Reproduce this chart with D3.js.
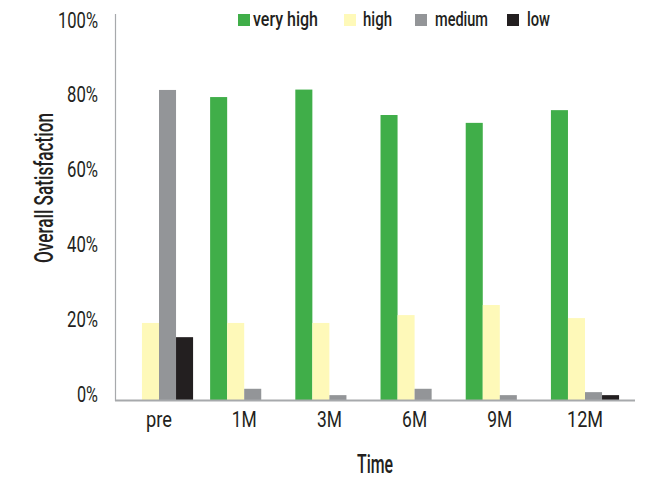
<!DOCTYPE html>
<html>
<head>
<meta charset="utf-8">
<script src="https://cdn.jsdelivr.net/npm/d3@7"></script>
<style>
  html, body { margin: 0; padding: 0; background: #fff; }
  svg { display: block; }
  text { font-family: Roboto, "DejaVu Sans Condensed", sans-serif; fill: #231f20; }
</style>
</head>
<body>
<svg id="chart" width="647" height="479"></svg>
<script>
const categories = ["pre", "1M", "3M", "6M", "9M", "12M"];
const seriesNames = ["very high", "high", "medium", "low"];
const veryHigh = [0, 0.81, 0.83, 0.762, 0.741, 0.775];
const high     = [0.206, 0.206, 0.206, 0.227, 0.254, 0.219];
const medium   = [0.829, 0.03, 0.013, 0.03, 0.013, 0.021];
const low      = [0.168, 0, 0, 0, 0, 0.013];
const yTicks = [0, 0.2, 0.4, 0.6, 0.8, 1.0];
const colors = ["#40ae49", "#fef9b9", "#939598", "#231f20"];

const seriesValues = [veryHigh, high, medium, low];
const svg = d3.select("#chart");

const x0 = d3.scaleBand().domain(categories).range([116.4, 627.6]).padding(0);
const bw = x0.bandwidth();
const x1 = d3.scaleBand().domain(seriesNames).range([bw * 0.1, bw * 0.9]).padding(0);
const y = d3.scaleLinear().domain([0, 1]).range([400, 26]);

const condense = (sel, widthOf) => sel.each(function () {
  const t = d3.select(this);
  t.attr("textLength", widthOf(t.text())).attr("lengthAdjust", "spacingAndGlyphs");
});

// bars
const groups = svg.append("g").selectAll("g")
  .data(categories).join("g")
  .attr("transform", d => `translate(${x0(d)},0)`);

groups.selectAll("rect")
  .data((c, i) => seriesNames.map((s, k) => ({ s, k, v: seriesValues[k][i] })).filter(d => d.v > 0))
  .join("rect")
  .attr("x", d => x1(d.s))
  .attr("width", x1.bandwidth())
  .attr("y", d => y(d.v))
  .attr("height", d => y(0) - y(d.v) + 1)
  .attr("fill", d => colors[d.k]);

// axes lines
svg.append("line").attr("x1", 115.5).attr("x2", 115.5).attr("y1", 14).attr("y2", 401)
  .attr("stroke", "#a7a9ac").attr("stroke-width", 1.2);
svg.append("line").attr("x1", 115).attr("x2", 635).attr("y1", 400.5).attr("y2", 400.5)
  .attr("stroke", "#a7a9ac").attr("stroke-width", 2);

// y tick labels
const yAxis = d3.axisLeft(y).tickValues(yTicks).tickFormat(d3.format(".0%")).tickSize(0).tickPadding(0);
const gy = svg.append("g").attr("transform", "translate(98,-6)").call(yAxis);
gy.select(".domain").remove();
gy.attr("font-family", null).attr("font-size", null);
gy.selectAll("text").attr("font-size", 22).attr("font-weight", 400).attr("fill", "#231f20");
condense(gy.selectAll("text"), s => s.length === 4 ? 40 : s.length === 3 ? 31 : 21);

// x tick labels
const xAxis = d3.axisBottom(x0).tickSize(0).tickPadding(0);
const gx = svg.append("g").attr("transform", "translate(0,411)").call(xAxis);
gx.select(".domain").remove();
gx.attr("font-family", null).attr("font-size", null);
gx.selectAll("text").attr("font-size", 22).attr("font-weight", 400).attr("fill", "#231f20")
  .attr("dy", "0.71em");
condense(gx.selectAll("text"), s => s === "pre" ? 26 : s.length === 3 ? 36 : 25);

// axis titles
svg.append("text").attr("x", 375).attr("y", 473).attr("text-anchor", "middle")
  .attr("font-size", 26).attr("font-weight", 500).text("Time")
  .attr("textLength", 36).attr("lengthAdjust", "spacingAndGlyphs");
svg.append("text").attr("transform", "translate(53,188) rotate(-90)").attr("text-anchor", "middle")
  .attr("font-size", 26).attr("font-weight", 500).text("Overall Satisfaction")
  .attr("textLength", 150).attr("lengthAdjust", "spacingAndGlyphs");

// legend
const legendX = [238, 344, 415, 507];
const legendTextX = [253, 363, 435, 527];
const legendW = [65, 29, 53, 23];
const lg = svg.append("g").selectAll("g").data(seriesNames).join("g");
lg.append("rect").attr("x", (d, i) => legendX[i]).attr("y", 14)
  .attr("width", 12).attr("height", 12).attr("fill", (d, i) => colors[i]);
lg.append("text").attr("x", (d, i) => legendTextX[i]).attr("y", 26).attr("font-size", 20)
  .attr("font-weight", 500).text(d => d)
  .attr("textLength", (d, i) => legendW[i]).attr("lengthAdjust", "spacingAndGlyphs");
</script>
</body>
</html>
